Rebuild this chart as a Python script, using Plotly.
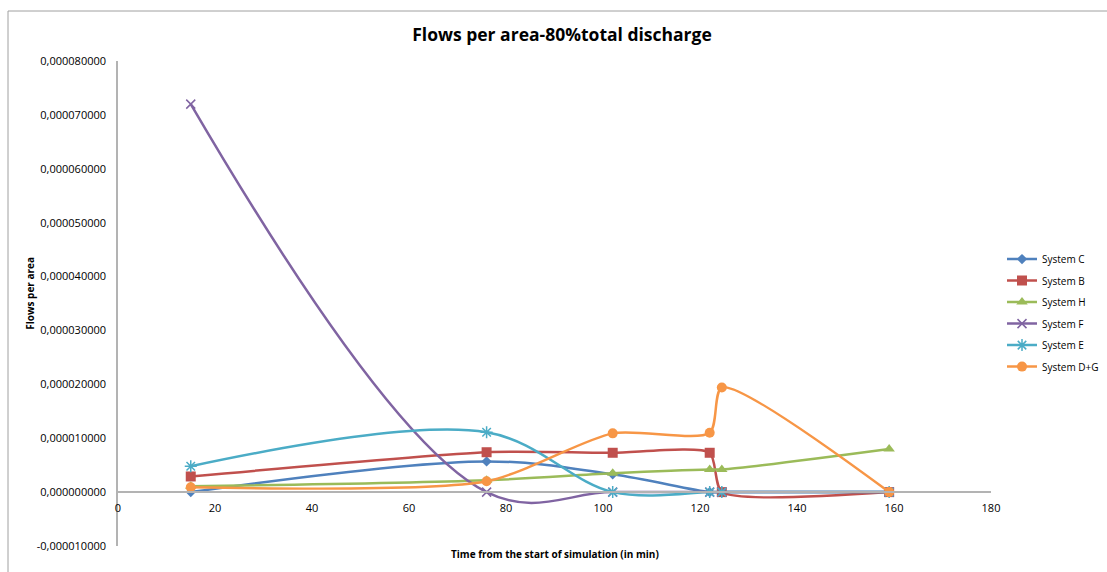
import plotly.graph_objects as go

# Sample times (minutes from the start of the simulation)
times = [15, 76, 102, 122, 124.5, 159]

# Flow per area for each system
system_c = [0.0, 5.7e-6, 3.3e-6, 0.0, 0.0, 0.0]
system_b = [2.9e-6, 7.4e-6, 7.3e-6, 7.3e-6, 0.0, 0.0]
system_h = [1.1e-6, 2.2e-6, 3.5e-6, 4.2e-6, 4.2e-6, 8.0e-6]
system_f = [7.2e-5, 0.0, 0.0, 0.0, 0.0, 0.0]
system_e = [4.8e-6, 1.11e-5, 0.0, 0.0, 0.0, 0.0]
system_dg = [0.9e-6, 2.0e-6, 1.09e-5, 1.1e-5, 1.94e-5, 0.0]

# Axis ticks
x_ticks = [0, 20, 40, 60, 80, 100, 120, 140, 160, 180]
y_ticks = [-1e-5, 0, 1e-5, 2e-5, 3e-5, 4e-5, 5e-5, 6e-5, 7e-5, 8e-5]
y_tick_text = ["-0,000010000", "0,000000000", "0,000010000", "0,000020000",
               "0,000030000", "0,000040000", "0,000050000", "0,000060000",
               "0,000070000", "0,000080000"]

FONT = "Open Sans"
AXIS_GRAY = "#b3b3b3"

# name, values, colour, marker, curve smoothing
series = [
    ("System C", system_c, "#4F81BD", dict(symbol="diamond", size=8), 1.0),
    ("System B", system_b, "#C0504D", dict(symbol="square", size=10), 0.6),
    ("System H", system_h, "#9BBB59", dict(symbol="triangle-up", size=10), 1.0),
    ("System F", system_f, "#8064A2", dict(symbol="x-thin-open", size=9,
                                           line=dict(width=1.5, color="#8064A2")), 1.1),
    ("System E", system_e, "#4BACC6", dict(symbol="asterisk-open", size=10,
                                           line=dict(width=1.5, color="#4BACC6")), 1.0),
    ("System D+G", system_dg, "#F79646", dict(symbol="circle", size=10), 0.7),
]

fig = go.Figure()
for name, values, color, marker, smooth in series:
    marker = dict(marker)
    marker.setdefault("color", color)
    fig.add_trace(go.Scatter(
        x=times, y=values, name=name, mode="lines+markers", legendgroup=name,
        line=dict(color=color, width=2.5, shape="spline", smoothing=smooth),
        marker=marker,
    ))

y_min, y_max = -1e-5, 8e-5

fig.update_layout(
    width=1107, height=572,
    margin=dict(l=118, r=116, t=61, b=26, autoexpand=False),
    paper_bgcolor="white", plot_bgcolor="white",
    font=dict(family=FONT, size=11, color="#000000"),
    showlegend=True,
    legend=dict(x=(1002 - 118) / 873, y=0.64 - 9 / 485, xanchor="left", yanchor="top",
                font=dict(family=FONT, size=10), itemwidth=30,
                tracegroupgap=2.5, bgcolor="rgba(0,0,0,0)"),
    title=dict(text="<b>Flows per area-80%total discharge</b>",
               x=562 / 1107, xref="container", y=1 - 35 / 572, yref="container",
               xanchor="center", yanchor="middle",
               font=dict(family=FONT, size=17.5, color="#000000")),
    xaxis=dict(range=[0, 180], tickvals=x_ticks, showgrid=False, zeroline=False,
               showline=True, linecolor=AXIS_GRAY, linewidth=1.5,
               anchor="free", position=(0 - y_min) / (y_max - y_min),
               ticks="", ticklabelstandoff=6, tickfont=dict(size=11)),
    yaxis=dict(range=[y_min, y_max], tickvals=y_ticks, ticktext=y_tick_text,
               showgrid=False, zeroline=False, showline=True,
               linecolor=AXIS_GRAY, linewidth=1.5, ticks="",
               ticklabelstandoff=8, tickfont=dict(size=11)),
)

# Axis titles
fig.add_annotation(text="<b>Time from the start of simulation (in min)</b>",
                   xref="paper", yref="paper", x=0.5, y=0, yshift=1,
                   xanchor="center", yanchor="top", showarrow=False,
                   font=dict(family=FONT, size=10))
fig.add_annotation(text="<b>Flows per area</b>", textangle=-90,
                   xref="paper", yref="paper", x=0, xshift=-88, y=0.52,
                   xanchor="center", yanchor="middle", showarrow=False,
                   font=dict(family=FONT, size=10))

# Chart frame
fig.add_shape(type="rect", xref="paper", yref="paper",
              x0=(8 - 118) / 873, x1=1.3, y0=-0.3, y1=(546 - 11) / 485,
              line=dict(color="#a0a0a0", width=1), layer="below")

fig.write_html("out.html")
